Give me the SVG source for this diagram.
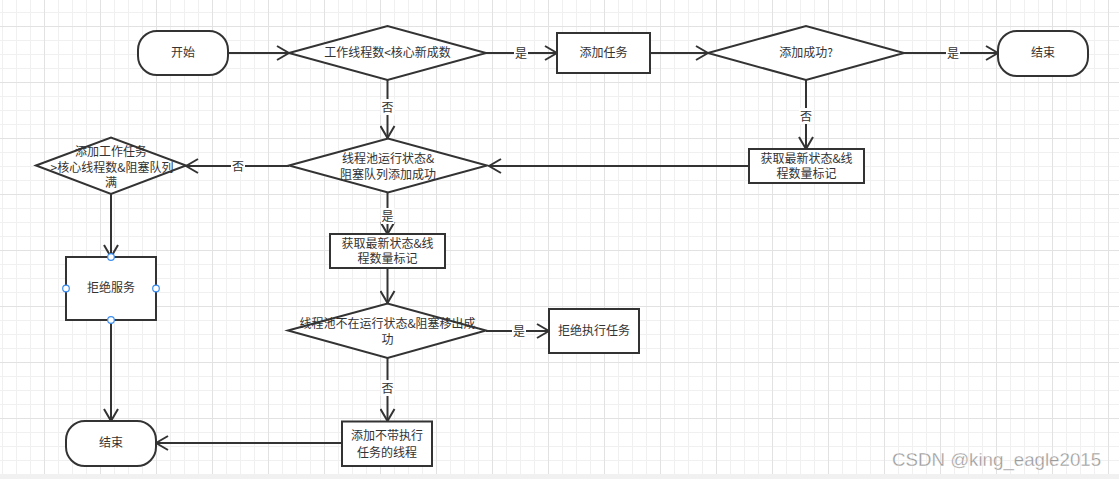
<svg xmlns="http://www.w3.org/2000/svg" width="1119" height="479" viewBox="0 0 1119 479">
<style>
.s{fill:#fff;stroke:#333;stroke-width:2}
.t{font-family:"Noto Sans CJK SC","Liberation Sans",sans-serif;font-size:12px;fill:#333;text-anchor:middle}
.c path{fill:none;stroke:#333;stroke-width:2}
.lb rect{fill:#fff}
.h{fill:#fff;stroke:#3d8ef0;stroke-width:1.2}
</style>
<defs>
<pattern id="g" x="-12" y="-30" width="56" height="56" patternUnits="userSpaceOnUse">
<rect x="14" y="0" width="1" height="56" fill="#f0f0f0"/>
<rect x="28" y="0" width="1" height="56" fill="#f0f0f0"/>
<rect x="42" y="0" width="1" height="56" fill="#f0f0f0"/>
<rect x="0" y="14" width="56" height="1" fill="#f0f0f0"/>
<rect x="0" y="28" width="56" height="1" fill="#f0f0f0"/>
<rect x="0" y="42" width="56" height="1" fill="#f0f0f0"/>
<rect x="0" y="0" width="1" height="56" fill="#e2e2e2"/>
<rect x="0" y="0" width="56" height="1" fill="#e2e2e2"/>
</pattern>
<marker id="a" viewBox="0 0 14 16" refX="13" refY="8" markerWidth="14" markerHeight="16" markerUnits="userSpaceOnUse" orient="auto">
<path d="M1,1 L13,8 L1,15" fill="none" stroke="#333" stroke-width="2"/>
</marker>
</defs>
<rect width="1119" height="479" fill="#fff"/>
<rect width="1119" height="474" fill="url(#g)"/>
<rect y="474" width="1119" height="5" fill="#f1f1f1"/>

<g id="connectors" class="c">
<path d="M228,53 H289" marker-end="url(#a)"/>
<path d="M486,53 H557" marker-end="url(#a)"/>
<path d="M650,53 H708" marker-end="url(#a)"/>
<path d="M904,53 H998" marker-end="url(#a)"/>
<path d="M806,80 V149" marker-end="url(#a)"/>
<path d="M749,166 H489" marker-end="url(#a)"/>
<path d="M387.5,80 V138" marker-end="url(#a)"/>
<path d="M289,166 H186" marker-end="url(#a)"/>
<path d="M387.5,192 V234" marker-end="url(#a)"/>
<path d="M387.5,268 V303" marker-end="url(#a)"/>
<path d="M486,331 H549" marker-end="url(#a)"/>
<path d="M387.5,358 V421" marker-end="url(#a)"/>
<path d="M342,443 H156" marker-end="url(#a)"/>
<path d="M111,194 V257" marker-end="url(#a)"/>
<path d="M111,320 V421" marker-end="url(#a)"/>
</g>
<g id="labels" class="lb">
<rect x="514" y="45" width="14" height="16"/><text class="t" x="521" y="58">是</text>
<rect x="946" y="45" width="14" height="16"/><text class="t" x="953" y="58">是</text>
<rect x="799" y="108" width="14" height="16"/><text class="t" x="806" y="121">否</text>
<rect x="380.5" y="99" width="14" height="16"/><text class="t" x="387.5" y="112">否</text>
<rect x="231" y="158" width="14" height="16"/><text class="t" x="238" y="170.5">否</text>
<rect x="380.5" y="208" width="14" height="16"/><text class="t" x="387.5" y="220.5">是</text>
<rect x="512" y="324" width="14" height="16"/><text class="t" x="519" y="336">是</text>
<rect x="380.5" y="380" width="14" height="16"/><text class="t" x="387.5" y="392.5">否</text>
</g>

<g id="start"><rect class="s" x="138" y="31" width="90" height="44" rx="19"/><text class="t" x="183" y="57.3">开始</text></g>
<g id="d1"><polygon class="s" points="289,53 387.5,26 486,53 387.5,80"/><text class="t" x="387.5" y="57.3">工作线程数&lt;核心新成数</text></g>
<g id="addtask"><rect class="s" x="557" y="33" width="93" height="40"/><text class="t" x="603.5" y="57.3">添加任务</text></g>
<g id="d2"><polygon class="s" points="708,53 806,26 904,53 806,80"/><text class="t" x="806" y="57.3">添加成功?</text></g>
<g id="end1"><rect class="s" x="998" y="31" width="90" height="45" rx="19"/><text class="t" x="1043" y="57.3">结束</text></g>
<g id="getstate1"><rect class="s" x="749" y="149" width="115" height="34"/><text class="t" x="806.5" y="162.8">获取最新状态&amp;线</text><text class="t" x="806.5" y="178">程数量标记</text></g>
<g id="d3"><polygon class="s" points="289,165.5 388,138.5 487,165.5 388,192.5"/><text class="t" x="388" y="163.4">线程池运行状态&amp;</text><text class="t" x="388" y="178.8">阻塞队列添加成功</text></g>
<g id="d4"><polygon class="s" points="36,165.5 111,137.5 186,165.5 111,194"/><text class="t" x="111" y="155.8">添加工作任务</text><text class="t" x="112" y="171.6">&gt;核心线程数&amp;阻塞队列</text><text class="t" x="111" y="187">满</text></g>
<g id="getstate2"><rect class="s" x="330" y="234" width="115" height="34"/><text class="t" x="387.5" y="248">获取最新状态&amp;线</text><text class="t" x="387.5" y="263.3">程数量标记</text></g>
<g id="reject"><rect class="s" x="66" y="257" width="90" height="63"/><text class="t" x="111" y="292.3">拒绝服务</text>
<circle class="h" cx="111" cy="257" r="3.3"/><circle class="h" cx="66" cy="288.5" r="3.3"/><circle class="h" cx="156" cy="288.5" r="3.3"/><circle class="h" cx="111" cy="320" r="3.3"/></g>
<g id="d5"><polygon class="s" points="288,330.5 387.5,303.5 486,330.5 387.5,358"/><text class="t" x="387.5" y="327.6">线程池不在运行状态&amp;阻塞移出成</text><text class="t" x="387.5" y="343.6">功</text></g>
<g id="rejecttask"><rect class="s" x="549" y="309" width="90" height="44"/><text class="t" x="594" y="335.3">拒绝执行任务</text></g>
<g id="addworker"><rect class="s" x="342" y="421.5" width="90" height="44.5"/><text class="t" x="387" y="440.3">添加不带执行</text><text class="t" x="387" y="457">任务的线程</text></g>
<g id="end2"><rect class="s" x="66" y="421" width="90" height="45" rx="19"/><text class="t" x="111" y="447.3">结束</text></g>
<text x="892" y="466" font-family="Liberation Sans,sans-serif" font-size="18.7" fill="#9a9a9a" stroke="#fff" stroke-width="0.3">CSDN @king_eagle2015</text>
</svg>
